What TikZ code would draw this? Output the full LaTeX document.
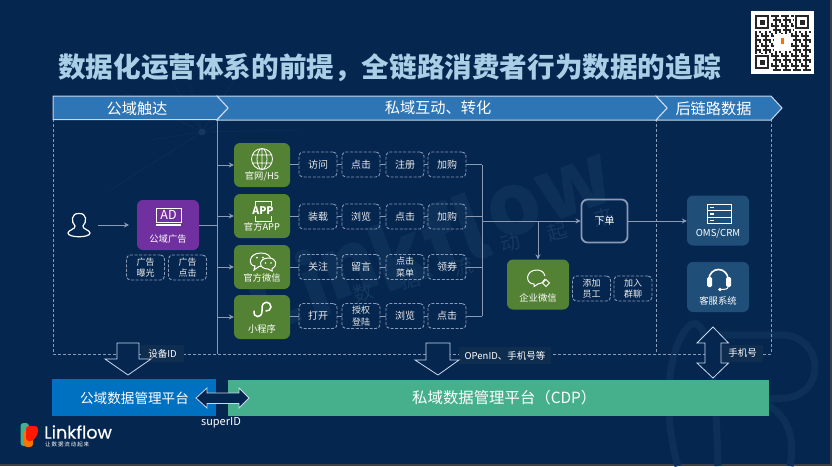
\documentclass[tikz,border=0pt]{standalone}
\usepackage{fontspec}
\setmainfont{Noto Sans CJK SC}
\newfontfamily\logofont[FakeBold=0.4]{Poppins}
\usetikzlibrary{arrows.meta}
\definecolor{pagebg}{HTML}{05264F}
\definecolor{edgegray}{HTML}{3C4046}
\definecolor{titleblue}{HTML}{A9CFE6}
\definecolor{chevblue}{HTML}{2E75B6}
\definecolor{chevline}{HTML}{C9D8EA}
\definecolor{linegray}{HTML}{8A9AB4}
\definecolor{adpurple}{HTML}{7030A0}
\definecolor{srcgreen}{HTML}{548235}
\definecolor{sysblue}{HTML}{1F4E79}
\definecolor{barblue}{HTML}{0070C0}
\definecolor{bargreen}{HTML}{46B08C}
\definecolor{tagbg}{HTML}{0F2D4F}
\definecolor{markfaint}{HTML}{0C3058}
\definecolor{markchar}{HTML}{14395F}
\newcommand\twolines{\fontsize{9}{10.5}\selectfont}
\tikzset{
  txt/.style={text=white, inner sep=0pt, align=center},
  tiny/.style={txt, font=\fontsize{10}{11.5}\selectfont},
  small/.style={txt, font=\fontsize{9.3}{11}\selectfont},
  card/.style={rounded corners=6pt, minimum width=#1, inner sep=0pt},
  srcbox/.style={card=56pt, minimum height=44pt, fill=srcgreen},
  bigbox/.style={card=62pt, minimum height=50pt},
  tagbox/.style={draw=linegray, dashed, dash pattern=on 3pt off 1.6pt, line width=0.9pt, rounded corners=4pt,
    minimum width=38pt, minimum height=25pt, inner sep=0pt, tiny, text=white!92!black},
  idbox/.style={fill=tagbg, inner sep=0pt, minimum height=17pt, tiny, font=\fontsize{9.5}{11}\selectfont},
  link/.style={draw=linegray, line width=1pt},
  flow/.style={link, -{Stealth[length=5pt,width=5pt]}},
  frame/.style={draw=linegray, dashed, dash pattern=on 3pt off 2pt, line width=0.8pt},
  chev/.style={fill=chevblue, draw=chevline, line width=1pt},
  block/.style={fill=pagebg, draw=chevline, line width=0.8pt},
  icon/.style={draw=white, line width=1.3pt},
}
\begin{document}
\begin{tikzpicture}[x=1pt, y=-1pt]
  \useasboundingbox (0,0) rectangle (832,466);
  \fill[edgegray] (0,0) rectangle (832,466);
  \fill[pagebg] (0,0) rectangle (830,464);

  % faint background marks
  \foreach \xa/\ya in {120/90, 160/60, 190/85, 240/70, 280/95, 300/130, 150/140, 110/190}
    \draw[markfaint, line width=0.5pt] (202,132) -- (\xa,\ya);
  \fill[markchar] (202,132) circle (3.5);
  \foreach \xa/\ya/\ch in {272/298/L, 313/284/i, 350/270/n, 398/253/k, 440/238/f, 470/227/l, 515/211/o, 575/189/w}
    \node[text=markfaint, font=\fontsize{85}{85}\bfseries, inner sep=0pt, rotate=20] (mark\ch) at (\xa,\ya) {\ch};
  \foreach \xa/\ya/\ch in {363/293/数, 410/280/据, 463/267/流, 510/243/动, 557/232/起, 603/218/来}
    \node[text=markchar, font=\fontsize{20}{20}\selectfont, inner sep=0pt, rotate=15] (mark\ch) at (\xa,\ya) {\ch};
  \draw[markfaint, line width=7pt] (678,466) .. controls (664,420) and (664,350) .. (690,325)
    .. controls (705,316) and (715,350) .. (718,466);
  \draw[markfaint, line width=7pt] (700,335) -- (785,335) .. controls (825,340) and (825,395) .. (785,398) -- (755,400)
    .. controls (790,410) and (795,440) .. (790,466);

  % title and code
  \node[text=titleblue, font=\fontsize{27.6}{30}\bfseries, inner sep=0pt, anchor=west] (title) at (58,68)
    {数据化运营体系的前提，全链路消费者行为数据的追踪};
  \node[fill=white, minimum size=63pt, inner sep=0pt] (qr) at (782.5,42.5) {};
  \foreach \i in {0,...,27}
    \foreach \j in {0,...,27}{
      \pgfmathparse{int(mod(\i*\i*3+\j*\j*5+\i*\j*2+\i*3,5))}
      \ifnum\pgfmathresult<2
        \fill[black!85] ({755+2*\i},{15+2*\j}) rectangle ++(2,2);
      \fi
    }
  \foreach \xa/\ya in {755/15, 795/15, 755/55}{
    \fill[white] (\xa-1,\ya-1) rectangle ++(17,17);
    \draw[black!85, line width=2pt] (\xa+1,\ya+1) rectangle ++(12,12);
    \fill[black!85] (\xa+4.5,\ya+4.5) rectangle ++(5,5);
  }
  \fill[white] (774,34) rectangle (791,51);
  \fill[orange!85!red] (781,38) rectangle (784,44);

  % frame
  \draw[frame] (53,119) -- (53,354) -- (771,354) -- (771,119) -- (217,119);
  \draw[frame] (656,119) -- (656,354);
  \draw[link, line width=0.8pt] (217,119) -- (217,354);

  % headers
  \draw[chev] (656,96) -- (771,96) -- (782,108) -- (771,120) -- (656,120) -- (667,108) -- cycle;
  \draw[chev] (217,96) -- (656,96) -- (667,108) -- (656,120) -- (217,120) -- (228,108) -- cycle;
  \draw[chev] (53,96) -- (217,96) -- (228,108) -- (217,119.5) -- (53,119.5) -- cycle;
  \node[txt, font=\fontsize{15.2}{16}\selectfont] (headpub) at (137,109) {公域触达};
  \node[txt, font=\fontsize{15.2}{16}\selectfont] (headpriv) at (438,108) {私域互动、转化};
  \node[txt, font=\fontsize{15.2}{16}\selectfont] (headpost) at (713.5,109) {后链路数据};

  % user and ad
  \draw[icon, line width=1.2pt] (75,226) .. controls (71,222) and (71,213) .. (79,213.5) .. controls (87,213) and (87,222) .. (83,226)
    .. controls (82,229) and (90,230) .. (90,233) .. controls (90,238) and (68,238) .. (68,233) .. controls (68,230) and (76,229) .. (75,226) -- cycle;
  \coordinate (user) at (98,225);
  \node[bigbox, fill=adpurple] (ad) at (168,225) {};
  \draw[flow] (user) -- (129,225);
  \draw[icon, line width=0.9pt] (156,208.5) rectangle (181,222);
  \draw[icon] (156,225) -- (181,225);
  \node[txt, font=\fontsize{12.5}{13}\selectfont] (adicon) at (168.5,215) {AD};
  \node[small] (adtext) at (168,239) {公域广告};
  \node[tagbox] (adshow) at (145.5,267.5) {\twolines 广告\\\twolines 曝光};
  \node[tagbox] (adclick) at (187.5,267.5) {\twolines 广告\\\twolines 点击};

  % sources
  \coordinate (trunk) at (217,225);
  \draw[link] (ad.east) -- (trunk);
  \foreach \rw/\yy/\ty/\lab in {1/165/176/{官网/H5}, 2/216/227/官方APP, 3/267/278/官方微信, 4/317/329/小程序}{
    \node[srcbox] (src\rw) at (262,\yy) {};
    \node[small] (srctext\rw) at (262,\ty) {\lab};
    \draw[flow] (trunk |- src\rw.west) -- (src\rw.west);
  }
  \draw[icon, line width=0.8pt] (262,159) circle (10.5) (262,159) ellipse (5 and 10.5) (262,148.5) -- (262,169.5)
    (252,155) -- (272,155) (252,163) -- (272,163);
  \draw[icon, line width=1pt] (255,206) -- (255,201) -- (271,201) -- (271,206) (255,216) -- (255,221) -- (271,221) -- (271,216);
  \node[txt, font=\fontsize{10.5}{11}\bfseries] (appicon) at (263,211) {APP};
  \draw[icon, line width=1pt, fill=srcgreen] (261,253) .. controls (248,253) and (248,266) .. (255,266) -- (254,270) -- (259,266.5) .. controls (274,266) and (274,253) .. (261,253) -- cycle;
  \draw[icon, line width=1pt, fill=srcgreen] (268.5,258) .. controls (258,258) and (258,269) .. (268,269) -- (272,271) -- (272,268.5) .. controls (278,266) and (277,258) .. (268.5,258) -- cycle;
  \fill[white] (257,257.5) circle (1) (263,257.5) circle (1);
  \fill[white] (265.5,263) circle (0.9) (271,263) circle (0.9);
  \draw[icon, line width=1.5pt, line cap=round] (254,311) .. controls (253,318) and (262,319) .. (262,311)
    -- (262,308) .. controls (262,300) and (271,301) .. (271,307) .. controls (271,310) and (268,311) .. (266,311);

  % tags
  \foreach \rw/\yy/\ta/\tb/\tc/\td in {1/164.5/访问/点击/注册/加购, 2/216.5/装载/浏览/点击/加购,
      3/267/关注/留言/{\twolines 点击\\\twolines 菜单}/领券, 4/316/打开/{\twolines 授权\\\twolines 登陆}/浏览/点击}{
    \node[tagbox] (tag\rw a) at (318,\yy) {\ta};
    \node[tagbox] (tag\rw b) at (361,\yy) {\tb};
    \node[tagbox] (tag\rw c) at (405,\yy) {\tc};
    \node[tagbox] (tag\rw d) at (447,\yy) {\td};
    \draw[link] (src\rw.east |- tag\rw a.west) -- (tag\rw a) -- (tag\rw b) -- (tag\rw c) -- (tag\rw d);
  }

  % order and after
  \coordinate (merge) at (482,221);
  \node[draw=linegray, line width=1.8pt, rounded corners=6pt, minimum width=46pt, minimum height=43pt, tiny] (order) at (604.5,221) {下单};
  \node[bigbox, fill=srcgreen] (wework) at (538,284.5) {};
  \node[bigbox, fill=sysblue] (oms) at (718,220.5) {};
  \node[bigbox, fill=sysblue] (service) at (718,287) {};
  \foreach \rw in {1,...,4}
    \draw[link] (tag\rw d.east) -- (merge |- tag\rw d.east);
  \draw[link] (merge |- tag1d.east) -- (merge |- tag4d.east);
  \draw[flow] (merge) -- (order.west);
  \draw[flow] (wework.north |- merge) -- (wework.north);
  \draw[flow] (order.east) -- (oms.west |- order.east);
  \node[small] (weworktext) at (538,298) {企业微信};
  \node[tagbox] (addstaff) at (591.5,288.5) {\twolines 添加\\\twolines 员工};
  \node[tagbox] (addgroup) at (633,288.5) {\twolines 加入\\\twolines 群聊};
  \draw[icon, line width=1pt] (537,270) .. controls (525,270) and (525,284) .. (534,284) -- (534,286.5) -- (538,284) .. controls (541,284) and (544,282) .. (545,279) (545,276) .. controls (544,272) and (541,270) .. (537,270);
  \draw[icon, line width=0.9pt] (546,279.5) -- (549.5,283) -- (546,286.5) -- (542.5,283) -- cycle;
  \node[txt, font=\fontsize{9.6}{11}\selectfont] (omstext) at (718,234) {OMS/CRM};
  \node[small] (servicetext) at (718,301) {客服系统};
  \foreach \ya in {204,210.5,217}{
    \draw[icon, line width=1pt] (707.5,\ya) rectangle ++(23.5,6.5);
    \fill[white] (710,\ya+2.5) rectangle ++(4,1.5);
  }
  \draw[icon, line width=1.6pt] (709,279) arc[start angle=180, end angle=360, radius=9.5];
  \fill[white, rounded corners=1.5pt] (707,277) rectangle (712,287) (726,277) rectangle (731,287);
  \draw[icon, line width=1pt] (728,287) .. controls (728,289) and (725,289.5) .. (721,289.5);
  \fill[white] (720,289.5) circle (1.8);

  % id labels
  \node[idbox, minimum width=43pt] (deviceid) at (162.5,353.5) {设备ID};
  \node[idbox, minimum width=92pt] (openid) at (505,355.5) {OPenID、手机号等};
  \node[idbox, minimum width=41pt] (phoneid) at (742.5,353) {手机号};

  % platform bars
  \node[fill=barblue, minimum width=164pt, minimum height=37pt, inner sep=0pt] (pubbar) at (134,397.5) {};
  \node[fill=bargreen, minimum width=541pt, minimum height=36pt, inner sep=0pt] (privbar) at (498.5,398) {};
  \node[txt, font=\fontsize{13.6}{15}\selectfont] (pubtext) at (134.5,398) {公域数据管理平台};
  \node[txt, anchor=west, font=\fontsize{15.4}{17}\selectfont] (privtext) at (412,398) {私域数据管理平台（CDP）};

  % big arrows
  \draw[block] (117,343) -- (139,343) -- (139,359) -- (151,359) -- (128,375) -- (105,359) -- (117,359) -- cycle;
  \draw[block] (426,343) -- (450,343) -- (450,360) -- (459,360) -- (438,375) -- (415,360) -- (426,360) -- cycle;
  \draw[block] (713,327) -- (728.5,343) -- (721,343) -- (721,363) -- (728.5,363) -- (713,378) -- (697,363) -- (705,363) -- (705,343) -- (697,343) -- cycle;
  \draw[block] (196,398) -- (207,388) -- (207,393) -- (239,393) -- (239,388) -- (249,398) -- (239,408) -- (239,403.5) -- (207,403.5) -- (207,408) -- cycle;
  \node[txt, font=\fontsize{11}{12}\selectfont] (superid) at (221,423) {superID};

  % logo
  \fill[bargreen, rounded corners=3pt] (20.5,423) rectangle (29,446);
  \fill[orange!90!red, rounded corners=3pt] (24,430) rectangle (33,447);
  \fill[red!80!orange, rounded corners=3pt] (26,426) -- (38,426) -- (38,434) -- (33,441) -- (26,441) -- cycle;
  \node[txt, font=\logofont\fontsize{17.5}{18}\selectfont, anchor=west] (logotext) at (44,432) {Linkflow};
  \node[txt, font=\fontsize{5.5}{6}\selectfont, anchor=west] (logosub) at (45,444.5) {让\,数\,据\,流\,动\,起\,来};
\end{tikzpicture}
\end{document}
